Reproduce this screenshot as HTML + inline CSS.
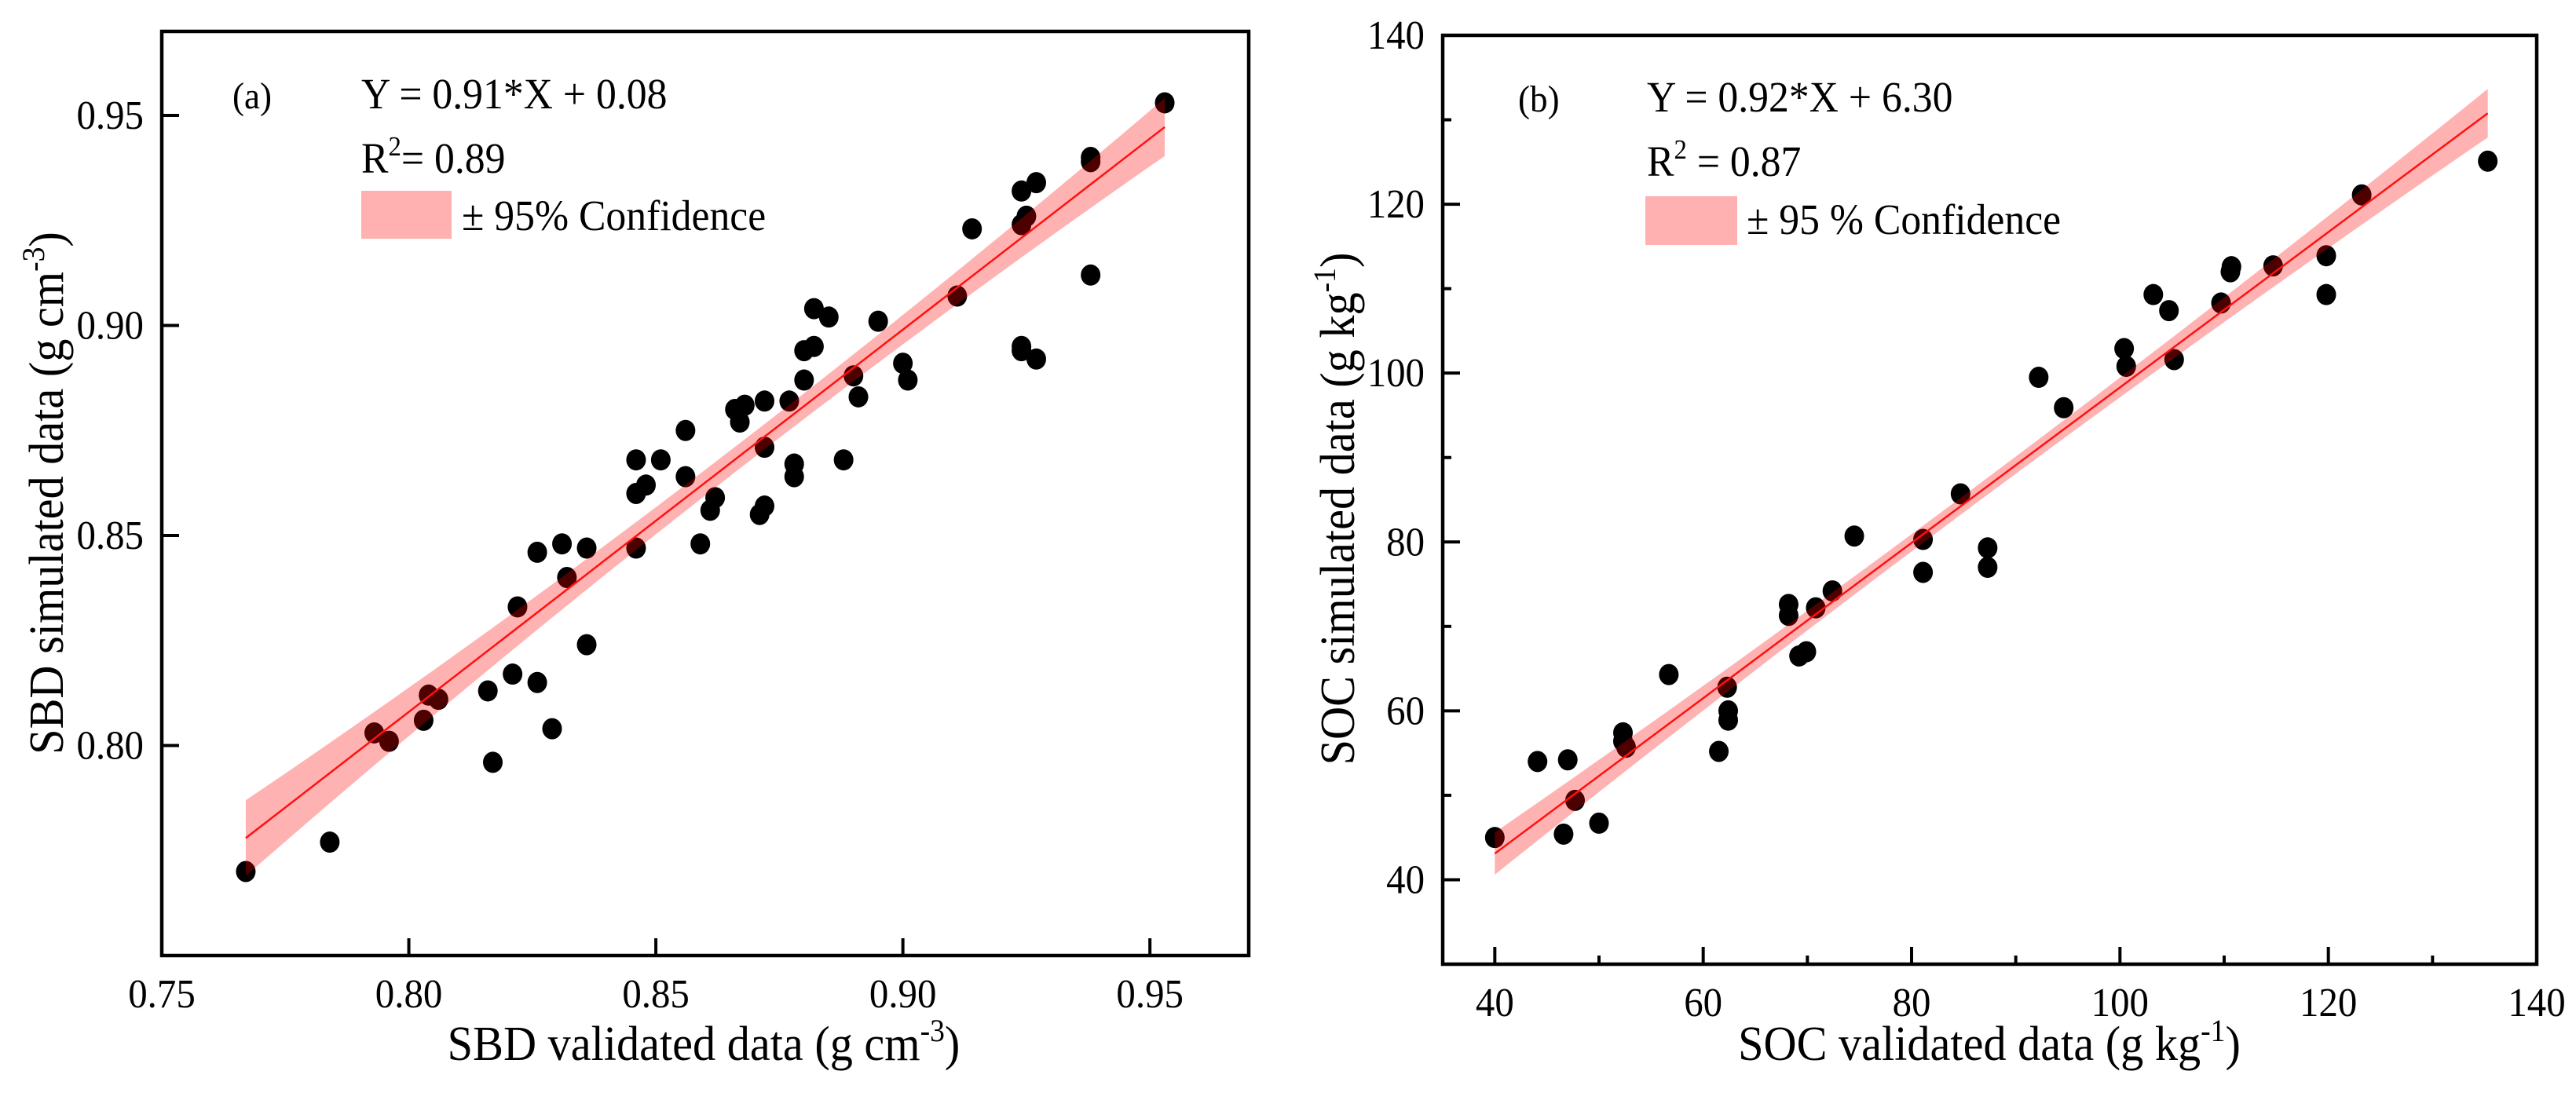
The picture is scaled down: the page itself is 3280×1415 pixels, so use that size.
<!DOCTYPE html>
<html><head><meta charset="utf-8"><style>
html,body{margin:0;padding:0;background:#fff;}
svg text{font-family:"Liberation Serif","Times New Roman",serif;fill:#000;}
</style></head><body>
<svg id="chart" width="3280" height="1410" viewBox="0 0 3280 1410" xmlns="http://www.w3.org/2000/svg" font-family="'Liberation Serif', serif">
<rect width="3280" height="1410" fill="#fff"/>
<g id="pa"></g>
<g id="pb"></g>
</svg>
<script>
// Panel (a) SBD
const sbdValidated = [0.767,0.784,0.793,0.796,0.803,0.804,0.806,0.816,0.817,0.821,0.822,0.826,0.826,0.829,0.831,0.832,0.836,0.836,0.846,0.846,0.846,0.848,0.851,0.856,0.856,0.859,0.861,0.862,0.866,0.867,0.868,0.871,0.872,0.872,0.872,0.877,0.878,0.878,0.880,0.880,0.882,0.882,0.885,0.888,0.890,0.891,0.895,0.900,0.901,0.911,0.914,0.924,0.925,0.924,0.924,0.924,0.927,0.927,0.938,0.938,0.938,0.953];
const sbdSimulated = [0.770,0.777,0.803,0.801,0.806,0.812,0.811,0.813,0.796,0.817,0.833,0.815,0.846,0.804,0.848,0.840,0.847,0.824,0.847,0.868,0.860,0.862,0.868,0.875,0.864,0.848,0.856,0.859,0.880,0.877,0.881,0.855,0.871,0.857,0.882,0.882,0.867,0.864,0.887,0.894,0.895,0.904,0.902,0.868,0.888,0.883,0.901,0.891,0.887,0.907,0.923,0.932,0.926,0.924,0.895,0.894,0.934,0.892,0.940,0.939,0.912,0.953];
const sbdTicks = [0.75,0.80,0.85,0.90,0.95];
const sbdTickLabels = ["0.75","0.80","0.85","0.90","0.95"];
const sbdFit = [0.91,0.08];
const sbdBand = [0.0030,0.566,0.87];
// Panel (b) SOC
const socValidated = [40.0,44.1,47.0,46.6,47.7,50.0,52.3,52.3,52.6,56.7,61.5,62.3,62.4,62.4,68.2,68.2,69.2,69.9,70.8,72.4,74.5,81.1,81.1,84.7,87.3,87.3,92.2,94.6,100.4,100.6,103.2,104.7,105.2,109.7,110.6,110.7,114.7,119.8,119.8,123.2,135.3];
const socSimulated = [45.0,54.0,54.2,45.4,49.4,46.7,57.4,56.4,55.7,64.3,55.2,62.8,60.0,58.9,72.6,71.3,66.5,67.0,72.2,74.2,80.7,80.3,76.4,85.7,79.3,77.0,99.5,95.9,102.9,100.8,109.3,107.4,101.6,108.3,112.0,112.6,112.7,113.9,109.3,121.1,125.1];
const socTicks = [40,60,80,100,120,140];
const socTickLabels = ["40","60","80","100","120","140"];
const socMinorX = [50,70,90,110,130];
const socYTicks = [40,60,80,100,120,140];
const socMinorY = [50,70,90,110,130];
const socFit = [0.92,6.30];
const socBand = [1.0,0.00074,85];

const NS="http://www.w3.org/2000/svg";
function mk(parent,tag,attrs){const e=document.createElementNS(NS,tag);for(const k in attrs)e.setAttribute(k,attrs[k]);parent.appendChild(e);return e;}
function txt(parent,x,y,size,str,anchor,name,rot){
  const t=mk(parent,'text',{'font-size':size,'font-family':"'Liberation Serif', serif",'text-anchor':anchor||'start',transform:`translate(${x},${y})`+(rot?' rotate(-90)':'')+' scale(0.94,1)'});
  t.textContent=str;
  
  
  return t;
}
function panel(g,cfg){
  const X=v=>cfg.L+(v-cfg.x0)/(cfg.x1-cfg.x0)*(cfg.R-cfg.L);
  const Y=v=>cfg.B-(v-cfg.y0)/(cfg.y1-cfg.y0)*(cfg.B-cfg.T);
  const pts=mk(g,'g',{});
  
  
  cfg.xs.forEach((v,i)=>{const c=mk(pts,'ellipse',{cx:X(v),cy:Y(cfg.ys[i]),rx:12.5,ry:13.5,fill:'#000'});
    
    });
  const xmin=Math.min(...cfg.xs),xmax=Math.max(...cfg.xs);
  const f=x=>cfg.fit[0]*x+cfg.fit[1];
  const hw=x=>cfg.band[0]+cfg.band[1]*(x-cfg.band[2])**2;
  let up=[],lo=[];
  for(let k=0;k<=60;k++){const x=xmin+(xmax-xmin)*k/60;up.push(X(x)+','+Y(f(x)+hw(x)));lo.unshift(X(x)+','+Y(f(x)-hw(x)));}
  const band=mk(g,'polygon',{points:up.concat(lo).join(' '),fill:'#ff0000','fill-opacity':0.3});
  
  
  const line=mk(g,'line',{x1:X(xmin),y1:Y(f(xmin)),x2:X(xmax),y2:Y(f(xmax)),stroke:'#ff1010','stroke-width':2.5});
  
  
  const box=mk(g,'rect',{x:cfg.L,y:cfg.T,width:cfg.R-cfg.L,height:cfg.B-cfg.T,fill:'none',stroke:'#000','stroke-width':4.5});
  
  
  cfg.xt.forEach((v,i)=>{mk(g,'line',{x1:X(v),x2:X(v),y1:cfg.B,y2:cfg.B-22,stroke:'#000','stroke-width':4});
    txt(g,X(v),cfg.B+66,52,cfg.xl[i],'middle','x-tick-label');});
  cfg.yt.forEach((v,i)=>{mk(g,'line',{x1:cfg.L,x2:cfg.L+22,y1:Y(v),y2:Y(v),stroke:'#000','stroke-width':4});
    txt(g,cfg.L-23,Y(v)+17,52,cfg.yl[i],'end','y-tick-label');});
  (cfg.mx||[]).forEach(v=>mk(g,'line',{x1:X(v),x2:X(v),y1:cfg.B,y2:cfg.B-11,stroke:'#000','stroke-width':4}));
  (cfg.my||[]).forEach(v=>mk(g,'line',{x1:cfg.L,x2:cfg.L+11,y1:Y(v),y2:Y(v),stroke:'#000','stroke-width':4}));
}
const pa=document.getElementById('pa'),pb=document.getElementById('pb');
panel(pa,{L:206,R:1590,T:40,B:1217,x0:0.75,x1:0.97,y0:0.75,y1:0.97,xs:sbdValidated,ys:sbdSimulated,fit:sbdFit,band:sbdBand,
  xt:sbdTicks,xl:sbdTickLabels,yt:sbdTicks.slice(1),yl:sbdTickLabels.slice(1)});
panel(pb,{L:1837,R:3230,T:45,B:1228,x0:35,x1:140,y0:30,y1:140,xs:socValidated,ys:socSimulated,fit:socFit,band:socBand,
  xt:socTicks,xl:socTickLabels,yt:socYTicks,yl:socTickLabels,mx:socMinorX,my:socMinorY});

let t;
txt(pa,296,138,48,'(a)','start','panel-label-a');
txt(pa,460,138,55,'Y = 0.91*X + 0.08','start','regression-equation-a');
t=txt(pa,460,220,55,'','start','r-squared-a');
t.innerHTML='R<tspan dy="-22" font-size="35">2</tspan><tspan dy="22">= 0.89</tspan>';
let sw=mk(pa,'rect',{x:460,y:243,width:115,height:61,fill:'#ffb0b0'});


txt(pa,588,293,55,'± 95% Confidence','start','legend-label-a');
t=txt(pa,896,1350,62,'','middle','x-axis-title-a');
t.innerHTML='SBD validated data (g cm<tspan dy="-24" font-size="40">-3</tspan><tspan dy="24">)</tspan>';
t=txt(pa,80,628,62,'','middle','y-axis-title-a',true);
t.innerHTML='SBD simulated data (g cm<tspan dy="-24" font-size="40">-3</tspan><tspan dy="24">)</tspan>';

txt(pb,1933,142,48,'(b)','start','panel-label-b');
txt(pb,2097,142,55,'Y = 0.92*X + 6.30','start','regression-equation-b');
t=txt(pb,2097,224,55,'','start','r-squared-b');
t.innerHTML='R<tspan dy="-22" font-size="35">2</tspan><tspan dy="22"> = 0.87</tspan>';
sw=mk(pb,'rect',{x:2095,y:250,width:117,height:62,fill:'#ffb0b0'});


txt(pb,2224,298,55,'± 95 % Confidence','start','legend-label-b');
t=txt(pb,2533,1350,62,'','middle','x-axis-title-b');
t.innerHTML='SOC validated data (g kg<tspan dy="-24" font-size="40">-1</tspan><tspan dy="24">)</tspan>';
t=txt(pb,1724,648,62,'','middle','y-axis-title-b',true);
t.innerHTML='SOC simulated data (g kg<tspan dy="-24" font-size="40">-1</tspan><tspan dy="24">)</tspan>';
</script>
</body></html>
